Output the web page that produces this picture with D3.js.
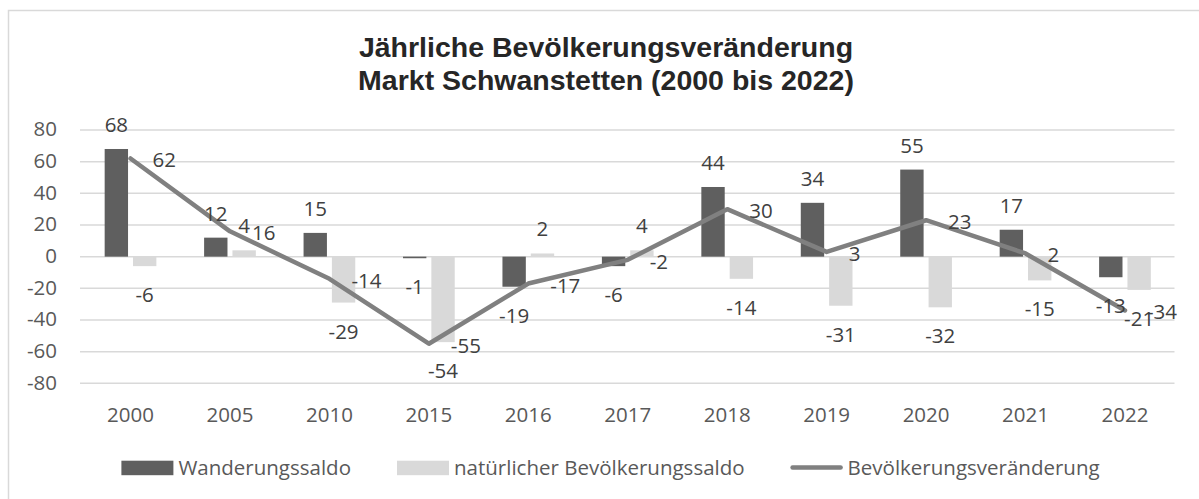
<!DOCTYPE html>
<html>
<head>
<meta charset="utf-8">
<script src="https://cdn.jsdelivr.net/npm/d3@7"></script>
<style>
  html, body { margin: 0; padding: 0; background: #ffffff; }
  svg { display: block; }
</style>
</head>
<body>
<div id="chart"></div>
<script>
const categories = ["2000", "2005", "2010", "2015", "2016", "2017", "2018", "2019", "2020", "2021", "2022"];
const wanderungssaldo = [68, 12, 15, -1, -19, -6, 44, 34, 55, 17, -13];
const natuerlicherSaldo = [-6, 4, -29, -54, 2, 4, -14, -31, -32, -15, -21];
const bevoelkerungsveraenderung = [62, 16, -14, -55, -17, -2, 30, 3, 23, 2, -34];
const yTicks = [-80, -60, -40, -20, 0, 20, 40, 60, 80];
const seriesNames = ["Wanderungssaldo", "natürlicher Bevölkerungssaldo", "Bevölkerungsveränderung"];
const titleLines = ["Jährliche Bevölkerungsveränderung", "Markt Schwanstetten (2000 bis 2022)"];

const W = 1199, H = 499;
const FONT = "'Open Sans', 'Noto Sans', sans-serif";
const FS = 20.5;
const colDark = "#5f5f5f", colLight = "#d9d9d9", colLine = "#808080";
const colGrid = "#d9d9d9", colText = "#404040", colAxis = "#595959";

const svg = d3.select("#chart").append("svg").attr("width", W).attr("height", H);
svg.append("rect").attr("width", W).attr("height", H).attr("fill", "#fff");

// chart border
svg.append("rect").attr("x", 8.5).attr("y", 10.5).attr("width", 1400).attr("height", 800)
  .attr("fill", "none").attr("stroke", "#d9d9d9").attr("stroke-width", 1.5);

const x = d3.scaleBand().domain(categories).range([80.8, 1174.7]).padding(0);
const y = d3.scaleLinear().domain([-80, 80]).range([383.3, 130]);

// title
const title = svg.append("text").attr("x", 606).attr("text-anchor", "middle")
  .attr("font-family", "'Liberation Sans', Arial, sans-serif").attr("font-weight", "bold")
  .attr("font-size", 28.5).attr("fill", "#262626");
title.selectAll("tspan").data(titleLines).join("tspan")
  .attr("x", 606).attr("y", (d, i) => i === 0 ? 56.7 : 90).text(d => d);

// gridlines
svg.append("g").selectAll("line").data(yTicks).join("line")
  .attr("x1", 80).attr("x2", 1174.5)
  .attr("y1", d => y(d)).attr("y2", d => y(d))
  .attr("stroke", colGrid).attr("stroke-width", 1.5);

// y axis labels
const yAxis = d3.axisLeft(y).tickValues(yTicks).tickFormat(d => String(d)).tickSize(0).tickPadding(0);
const gy = svg.append("g").attr("transform", "translate(57,0)").call(yAxis);
gy.select(".domain").remove();
gy.selectAll("text").attr("font-family", FONT).attr("font-size", FS).attr("fill", colAxis)
  .attr("dy", null).attr("dominant-baseline", "middle").attr("y", 0.5);

// x axis labels
const xAxis = d3.axisBottom(x).tickSize(0).tickPadding(0);
const gx = svg.append("g").attr("transform", "translate(0,407)").call(xAxis);
gx.select(".domain").remove();
gx.selectAll("text").attr("font-family", FONT).attr("font-size", FS).attr("fill", colAxis)
  .attr("dy", null).attr("y", 14.7);

const bw = x.bandwidth() * 0.235;
const gap = x.bandwidth() * 0.05;
const cx = d => x(d) + x.bandwidth() / 2;

const rows = categories.map((c, i) => ({ c, w: wanderungssaldo[i], n: natuerlicherSaldo[i], t: bevoelkerungsveraenderung[i] }));

// bars
const bars = svg.append("g");
bars.selectAll(".bw").data(rows).join("rect")
  .attr("x", d => cx(d.c) - gap / 2 - bw).attr("width", bw)
  .attr("y", d => y(Math.max(0, d.w))).attr("height", d => Math.abs(y(d.w) - y(0)))
  .attr("fill", colDark);
bars.selectAll(".bn").data(rows).join("rect")
  .attr("x", d => cx(d.c) + gap / 2).attr("width", bw)
  .attr("y", d => y(Math.max(0, d.n))).attr("height", d => Math.abs(y(d.n) - y(0)))
  .attr("fill", colLight);

// line
const line = d3.line().x(d => cx(d.c)).y(d => y(d.t));
svg.append("path").datum(rows).attr("d", line).attr("fill", "none")
  .attr("stroke", colLine).attr("stroke-width", 4.5)
  .attr("stroke-linejoin", "round").attr("stroke-linecap", "round");

// data labels
const lab = svg.append("g").attr("font-family", FONT).attr("font-size", FS).attr("fill", colText);
function barLabelY(v) { return v >= 0 ? y(v) - 17 : y(v) + 36; }
lab.selectAll(".lw").data(rows).join("text")
  .attr("x", d => cx(d.c) - gap / 2 - bw / 2).attr("y", d => barLabelY(d.w))
  .attr("text-anchor", "middle").text(d => d.w);
lab.selectAll(".ln").data(rows).join("text")
  .attr("x", d => cx(d.c) + gap / 2 + bw / 2).attr("y", d => barLabelY(d.n))
  .attr("text-anchor", "middle").text(d => d.n);
lab.selectAll(".lt").data(rows).join("text")
  .attr("x", d => cx(d.c) + 22).attr("y", d => y(d.t) + 9)
  .attr("text-anchor", "start").text(d => d.t);

// legend
const leg = svg.append("g").attr("font-family", FONT).attr("font-size", FS).attr("fill", colAxis);
let lx = 0;
const swW = 52, swH = 14.5, swGap = 5, itemGap = 46;
seriesNames.forEach((name, i) => {
  const g = leg.append("g").attr("transform", `translate(${lx},0)`);
  if (i < 2) {
    g.append("rect").attr("x", 0).attr("y", 460.7).attr("width", swW).attr("height", swH)
      .attr("fill", i === 0 ? colDark : colLight);
  } else {
    g.append("line").attr("x1", 2).attr("x2", swW - 2).attr("y1", 467.5).attr("y2", 467.5)
      .attr("stroke", colLine).attr("stroke-width", 4.5).attr("stroke-linecap", "round");
  }
  const t = g.append("text").attr("x", swW + swGap).attr("y", 474.5).text(name);
  lx += swW + swGap + t.node().getComputedTextLength() + itemGap;
});
const legW = lx - itemGap;
leg.attr("transform", `translate(${610.5 - legW / 2},0)`);
</script>
</body>
</html>
